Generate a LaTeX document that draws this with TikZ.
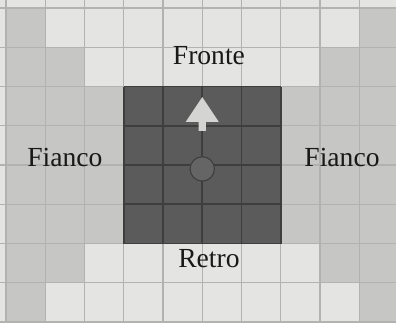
\documentclass[tikz,border=0pt]{standalone}
\usepackage{tikz}
\usepackage{fontspec}
\newfontfamily\labelfont{Liberation Serif}
\usetikzlibrary{positioning}
\definecolor{bglight}{HTML}{E4E4E2}
\definecolor{flankgray}{HTML}{C6C6C4}
\definecolor{linegray}{HTML}{B2B2B0}
\definecolor{unitdark}{HTML}{5B5B5B}
\definecolor{unitline}{HTML}{3E3E3E}
\definecolor{arrowgray}{HTML}{D4D4D2}
\definecolor{markergray}{HTML}{656565}

\begin{document}
\begin{tikzpicture}[
    lbl/.style={anchor=base, font=\labelfont\fontsize{20}{22}\selectfont, text=black!90},
    gridline/.style={draw=linegray, line width=0.9pt},
    unitgrid/.style={draw=unitline, line width=1.2pt},
    marker/.style={circle, draw=unitline, line width=0.8pt, fill=markergray, minimum size=0.62cm, inner sep=0pt}
]
\useasboundingbox (-0.153,-8.0) rectangle (9.936,0.204);
\fill[bglight] (-0.153,-8.0) rectangle (9.936,0.204);
% flank zones
\foreach \c/\r in {0/0,9/0,0/1,1/1,8/1,9/1,0/6,1/6,8/6,9/6,0/7,9/7}
    \fill[flankgray] (\c,-\r) rectangle ++(1,-1);
\fill[flankgray] (0,-2) rectangle (3,-6);
\fill[flankgray] (7,-2) rectangle (10,-6);
\begin{scope}
\clip (-0.153,-8.0) rectangle (9.936,0.204);
\draw[gridline] (-1,-9) grid (11,1);
\end{scope}
% unit
\fill[unitdark] (3,-6) rectangle (7,-2);
\draw[unitgrid] (3,-6) grid (7,-2);
\fill[arrowgray] (5,-2.27) -- (5.42,-2.90) -- (5.09,-2.90) -- (5.09,-3.13)
    -- (4.91,-3.13) -- (4.91,-2.90) -- (4.58,-2.90) -- cycle;
\node[marker] (centre) at (5,-4.1) {};

\node[lbl] (front) at (5.17,-1.45) {Fronte};
\node[lbl] (flankL) at (1.50,-4.05) {Fianco};
\node[lbl] (flankR) at (8.56,-4.05) {Fianco};
\node[lbl] (rear) at (5.17,-6.62) {Retro};
\end{tikzpicture}
\end{document}
